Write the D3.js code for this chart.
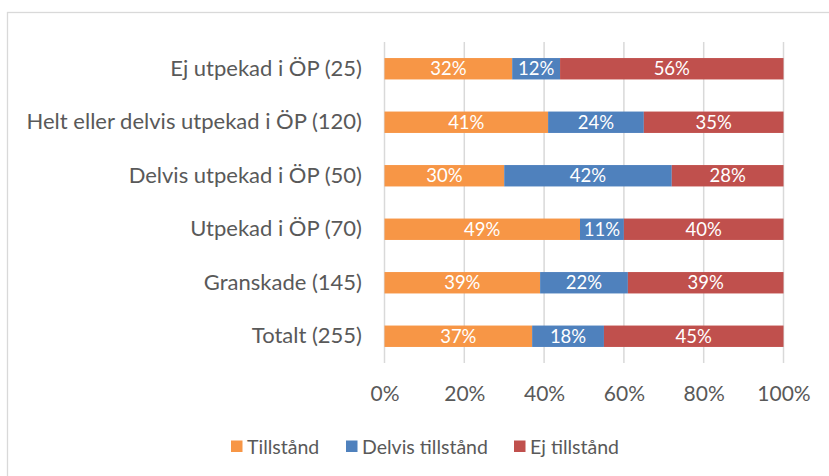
<!DOCTYPE html>
<html><head><meta charset="utf-8">
<script src="https://cdn.jsdelivr.net/npm/d3@7"></script>
<style>body{margin:0;background:#fff;}svg{display:block;}</style>
</head><body>
<script>
const categories = ["Ej utpekad i ÖP (25)","Helt eller delvis utpekad i ÖP (120)","Delvis utpekad i ÖP (50)","Utpekad i ÖP (70)","Granskade (145)","Totalt (255)"];
const seriesNames = ["Tillstånd","Delvis tillstånd","Ej tillstånd"];
const tillstand = [32,41,30,49,39,37];
const delvis = [12,24,42,11,22,18];
const ejTillstand = [56,35,28,40,39,45];
const colors = ["#F79646","#4F81BD","#C0504D"];
const tickValues = [0,20,40,60,80,100];

const W=829,H=476;
const font = "Lato, 'Open Sans', sans-serif";
const svg = d3.select("body").append("svg").attr("width",W).attr("height",H);
svg.append("rect").attr("x",7.5).attr("y",12.5).attr("width",900).attr("height",500).attr("fill","#fff").attr("stroke","#d9d9d9").attr("stroke-width",1.3);

const x = d3.scaleLinear().domain([0,100]).range([384.5,783.5]);
const y = d3.scaleBand().domain(categories).range([42,363]).paddingInner(0.6).paddingOuter(0.3);

const g = svg.append("g");
g.selectAll("line.grid").data(tickValues).join("line").attr("class","grid")
 .attr("x1",d=>x(d)).attr("x2",d=>x(d)).attr("y1",42).attr("y2",363)
 .attr("stroke","#d9d9d9").attr("stroke-width",1.5);

const series = [tillstand,delvis,ejTillstand];
const rows = categories.map((c,i)=>{let acc=0;return series.map((s,k)=>{const o={cat:c,k,v:s[i],x0:acc,x1:acc+s[i]};acc+=s[i];return o;});}).flat();

g.selectAll("rect.bar").data(rows).join("rect").attr("class","bar")
 .attr("x",d=>x(d.x0)).attr("width",d=>x(d.x1)-x(d.x0))
 .attr("y",d=>y(d.cat)).attr("height",y.bandwidth()).attr("fill",d=>colors[d.k]);

g.selectAll("text.val").data(rows).join("text").attr("class","val")
 .attr("x",d=>(x(d.x0)+x(d.x1))/2).attr("y",d=>y(d.cat)+y.bandwidth()/2)
 .attr("dy","0.36em").attr("text-anchor","middle").attr("fill","#fff")
 .attr("font-family",font).attr("font-size",18.5).text(d=>d.v+"%");

const yAxis = d3.axisLeft(y).tickSize(0).tickPadding(0);
const ya = svg.append("g").attr("transform","translate(362,0)").call(yAxis);
ya.select(".domain").remove();
ya.selectAll("text").attr("font-family",font).attr("font-size",22).attr("fill","#595959");

const xAxis = d3.axisBottom(x).tickValues(tickValues).tickSize(0).tickPadding(0).tickFormat(d=>d+"%");
const xa = svg.append("g").attr("transform","translate(0,386)").call(xAxis);
xa.select(".domain").remove();
xa.selectAll("text").attr("font-family",font).attr("font-size",21).attr("fill","#595959");

const legX=[231,346,514];
const leg = svg.selectAll("g.leg").data(seriesNames).join("g").attr("class","leg")
 .attr("transform",(d,i)=>`translate(${legX[i]},440.5)`);
leg.append("rect").attr("width",11.5).attr("height",11.5).attr("fill",(d,i)=>colors[i]);
leg.append("text").attr("x",16).attr("y",6).attr("dy","0.36em").attr("font-family",font)
 .attr("font-size",19.5).attr("fill","#595959").text(d=>d);
</script>
</body></html>
